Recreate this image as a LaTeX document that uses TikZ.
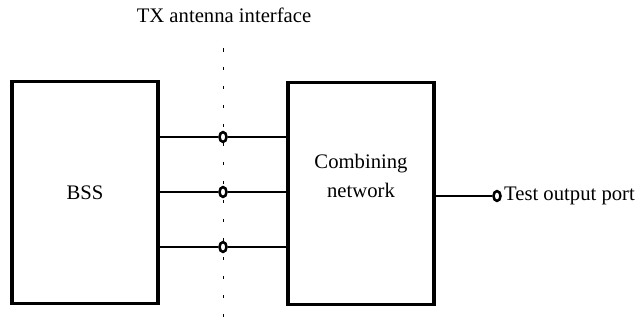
\documentclass[tikz,border=0pt]{standalone}
\usepackage{fontspec}
\setmainfont{Liberation Serif}
\usetikzlibrary{shapes.geometric,positioning}

\begin{document}
\begin{tikzpicture}[x=0.025cm,y=-0.025cm]
\tikzstyle{every node}=[font=\fontsize{14.7}{20}\selectfont]
\tikzstyle{block}=[rectangle,draw=black,line width=2.3pt,
minimum width=3.65cm,minimum height=5.55cm,inner sep=0pt]
\tikzstyle{port}=[ellipse,draw=black,fill=white,line width=1.8pt,
inner sep=0pt,minimum width=5pt,minimum height=7pt]
\tikzstyle{wire}=[line width=1.8pt]
\useasboundingbox (0,0) rectangle (642,328);

% the two boxes
\node[block] at (85,192.5) (bss) {BSS};
\node[block] at (361,193.5) (comb) {};
\node[align=center,yshift=0.44cm] at (comb.center) (combtxt) {Combining\\network};

% interface line
\node at (224,15) (tx) {TX antenna interface};
\coordinate (ifup) at (223,48);
\coordinate (ifdown) at (223,326);
\draw[line width=0.6pt,dash pattern=on 2.5pt off 11pt] (ifup) -- (ifdown);

% antenna ports
\node[port] at (223,137) (1) {};
\node[port] at (223,192) (2) {};
\node[port] at (223,247) (3) {};
\draw[wire] (bss.east |- 1) -- (1) -- (comb.west |- 1);
\draw[wire] (bss.east |- 2) -- (2) -- (comb.west |- 2);
\draw[wire] (bss.east |- 3) -- (3) -- (comb.west |- 3);

% output
\node[port] at (497,196) (out) {};
\node[right=0.5pt of out,inner sep=1pt] (outtxt) {Test output port};
\draw[wire] (comb.east |- out) -- (out);

\end{tikzpicture}
\end{document}
